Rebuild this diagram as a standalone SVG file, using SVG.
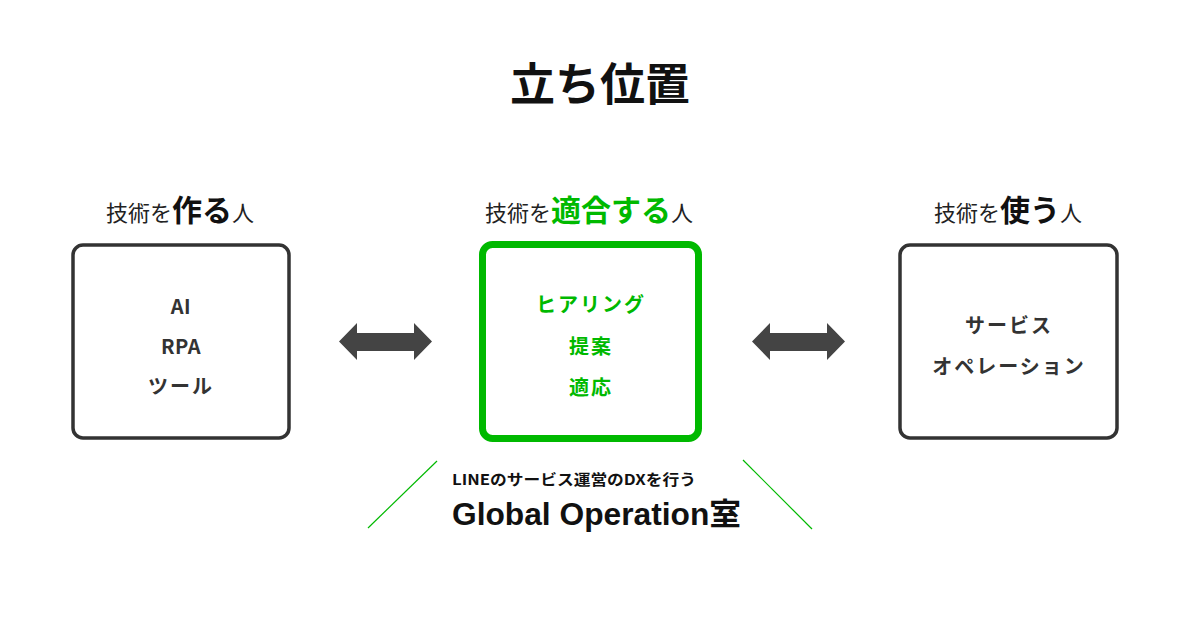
<svg xmlns="http://www.w3.org/2000/svg" width="1200" height="628" viewBox="0 0 1200 628">
<style>
.jp{font-family:"Noto Sans CJK JP","Noto Sans",sans-serif}
.title{font-size:45px;font-weight:700;fill:#111}
.lbl{font-size:22px;fill:#222}
.em{font-size:30px;font-weight:700}
.box{fill:#fff;stroke:#333;stroke-width:3.5}
.gbox{fill:#fff;stroke:#00b900;stroke-width:7}
.it{font-size:20px;font-weight:700;fill:#333;letter-spacing:2px}
.lat{letter-spacing:0.5px}
.git{font-size:20px;font-weight:700;fill:#00b900;letter-spacing:2px}
.arr{fill:#444}
.gl{stroke:#00b900;stroke-width:1.2}
</style>
<rect width="1200" height="628" fill="#fff"/>
<text class="jp title" x="600" y="101" text-anchor="middle">立ち位置</text>

<g id="node-make">
<text class="jp lbl" x="180" y="221" text-anchor="middle">技術を<tspan class="em" fill="#111">作る</tspan>人</text>
<rect class="box" x="73" y="245" width="216" height="193" rx="10"/>
<text class="jp it lat" x="181" y="314" text-anchor="middle">AI</text>
<text class="jp it lat" x="181" y="354" text-anchor="middle">RPA</text>
<text class="jp it" x="181" y="394" text-anchor="middle">ツール</text>
</g>

<g id="node-adapt">
<text class="jp lbl" x="589" y="221" text-anchor="middle">技術を<tspan class="em" fill="#00b900">適合する</tspan>人</text>
<rect class="gbox" x="482.5" y="244.5" width="216" height="194" rx="10"/>
<text class="jp git" x="591" y="312" text-anchor="middle">ヒアリング</text>
<text class="jp git" x="591" y="354" text-anchor="middle">提案</text>
<text class="jp git" x="591" y="395" text-anchor="middle">適応</text>
</g>

<g id="node-use">
<text class="jp lbl" x="1008" y="221" text-anchor="middle">技術を<tspan class="em" fill="#111">使う</tspan>人</text>
<rect class="box" x="900" y="245" width="217" height="193" rx="10"/>
<text class="jp it" x="1009" y="333" text-anchor="middle">サービス</text>
<text class="jp it" x="1009" y="374" text-anchor="middle">オペレーション</text>
</g>

<g id="connectors">
<polygon class="arr" points="339,341.5 357,323 357,333 414,333 414,323 432,341.5 414,360 414,351 357,351 357,360"/>
<polygon class="arr" points="752,341.5 770,323 770,333 827,333 827,323 845,341.5 827,360 827,351 770,351 770,360"/>
<line class="gl" x1="368" y1="528" x2="437" y2="461"/>
<line class="gl" x1="743" y1="460" x2="812" y2="529"/>
</g>

<g id="caption">
<text class="jp" x="452" y="485" font-size="15" font-weight="700" fill="#111" textLength="244" lengthAdjust="spacingAndGlyphs">LINEのサービス運営のDXを行う</text>
<text x="452" y="525" font-family="Liberation Sans,Noto Sans CJK JP,sans-serif" font-size="31" font-weight="700" fill="#111" textLength="289" lengthAdjust="spacingAndGlyphs">Global Operation室</text>
</g>
</svg>
